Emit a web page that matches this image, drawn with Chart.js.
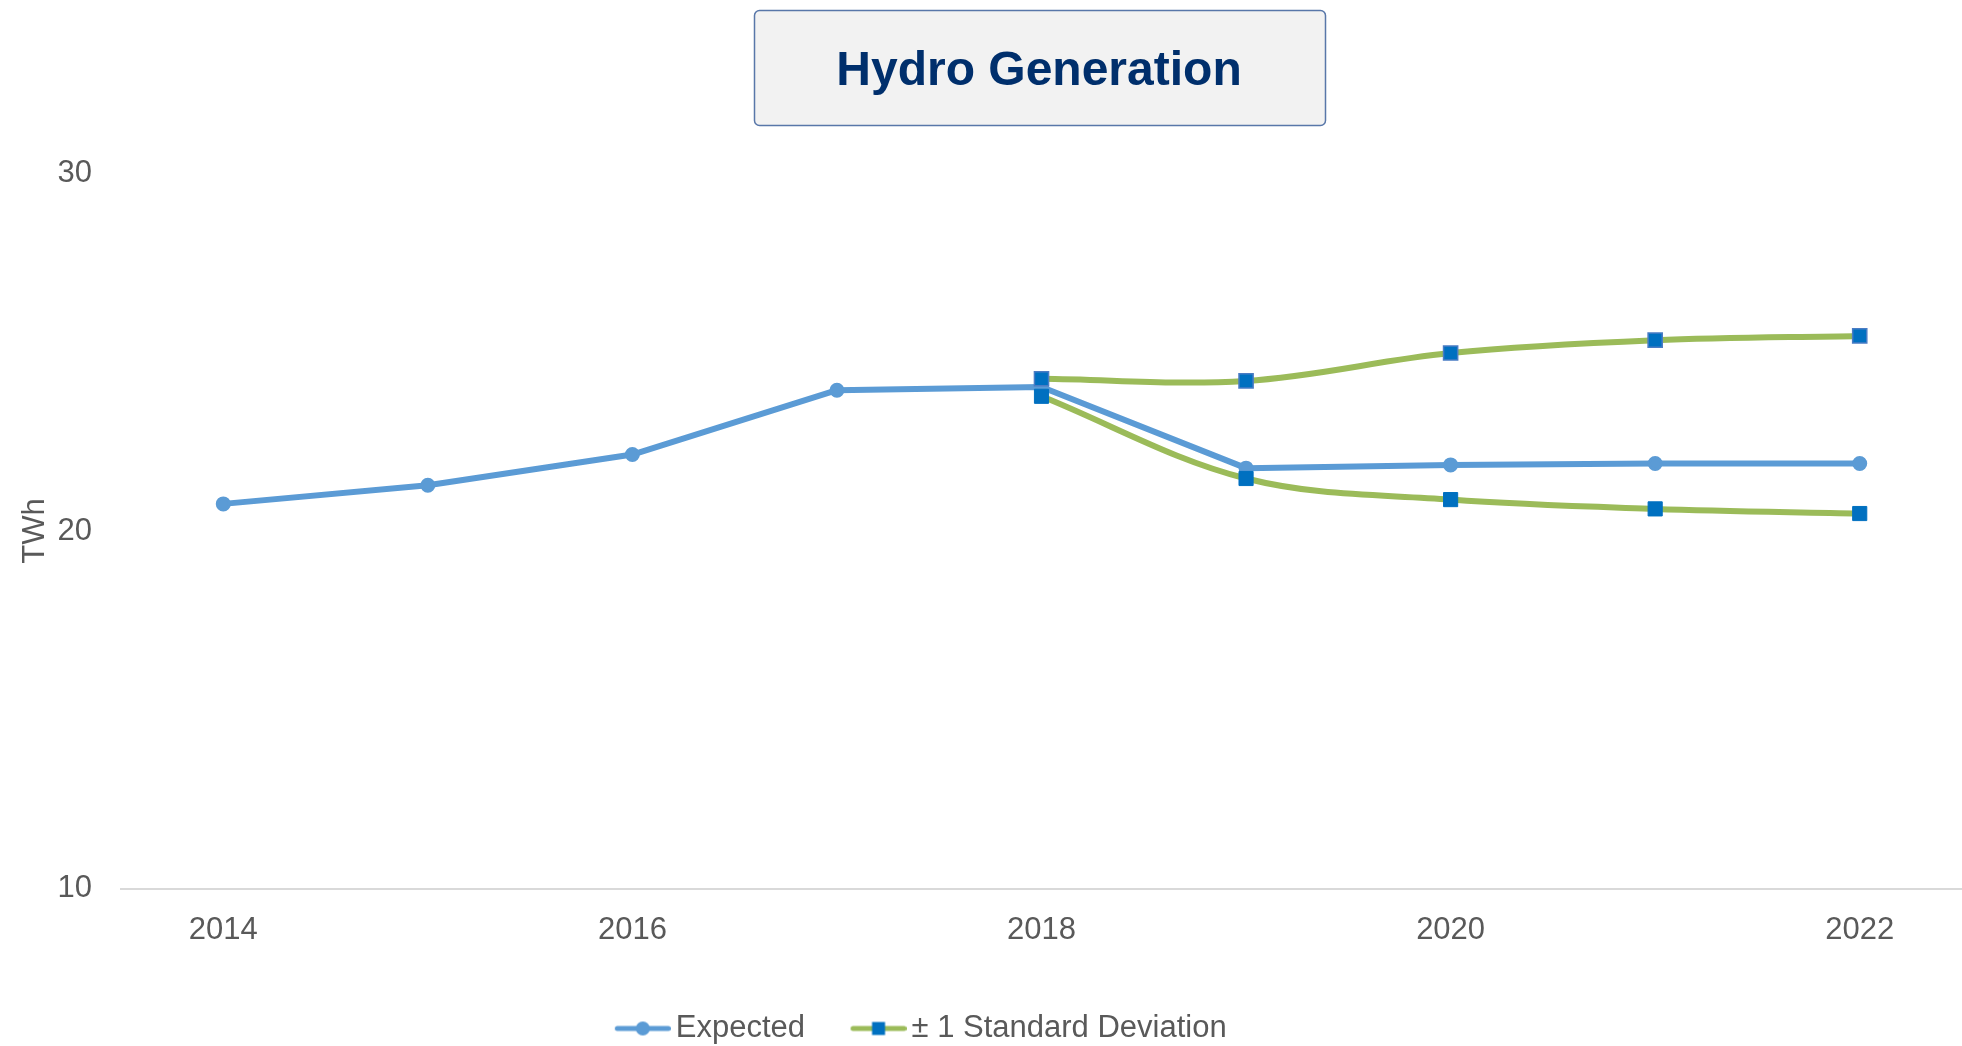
<!DOCTYPE html>
<html>
<head>
<meta charset="utf-8">
<title>Hydro Generation</title>
<script src="https://cdn.jsdelivr.net/npm/chart.js@4.4.1/dist/chart.umd.min.js"></script>
<style>
    html, body { margin: 0; padding: 0; background: #ffffff; }
    canvas { display: block; }
</style>
</head>
<body>
<canvas id="hydroChart" width="1962" height="1046"></canvas>
<script>
// data
const years = ['2014', '2015', '2016', '2017', '2018', '2019', '2020', '2021', '2022'];
const xTickLabels = ['2014', '2016', '2018', '2020', '2022'];
const yTicks = [10, 20, 30];
const expected = [20.76, 21.28, 22.14, 23.94, 24.03, 21.76, 21.85, 21.89, 21.89];
const upperDev = [null, null, null, null, 24.26, 24.2, 24.98, 25.34, 25.46];
const lowerDev = [null, null, null, null, 23.77, 21.47, 20.88, 20.62, 20.49];

const FONT = "'Liberation Sans', Arial, sans-serif";
const TEXT = '#595959';
const BLUE = '#5b9bd5';
const GREEN = '#9bbb59';
const MARKER = '#0070c0';

// legend icon: short line with the marker in the middle
function legendIcon(lineColor, marker) {
    const c = document.createElement('canvas');
    c.width = 108;
    c.height = 20;
    const ctx = c.getContext('2d');
    ctx.strokeStyle = lineColor;
    ctx.lineWidth = 5;
    ctx.lineCap = 'round';
    ctx.beginPath();
    ctx.moveTo(54.5, 10);
    ctx.lineTo(105.5, 10);
    ctx.stroke();
    if (marker === 'circle') {
        ctx.fillStyle = lineColor;
        ctx.beginPath();
        ctx.arc(80, 10, 7, 0, Math.PI * 2);
        ctx.fill();
    } else {
        ctx.fillStyle = MARKER;
        ctx.fillRect(73.5, 3.5, 13, 13);
    }
    return c;
}
const icons = [legendIcon(BLUE, 'circle'), legendIcon(GREEN, 'rect')];

// boxed title background
const titleBox = {
    id: 'titleBox',
    beforeDraw(chart) {
        const ctx = chart.ctx;
        ctx.save();
        ctx.beginPath();
        ctx.roundRect(754.5, 10.5, 571, 115, 5);
        ctx.fillStyle = '#f2f2f2';
        ctx.fill();
        ctx.lineWidth = 1.5;
        ctx.strokeStyle = '#5877a9';
        ctx.stroke();
        ctx.restore();
    }
};

// title sits right of centre, legend left of centre and a bit lower
const nudge = {
    id: 'nudge',
    afterLayout(chart) {
        chart.titleBlock.left += 58;
        chart.titleBlock.right += 58;
        chart.legend.left -= 81;
        chart.legend.right -= 81;
        chart.legend.top += 8;
        chart.legend.bottom += 8;
    }
};

const ctx = document.getElementById('hydroChart').getContext('2d');
new Chart(ctx, {
    type: 'line',
    data: {
        labels: years,
        datasets: [{
            label: 'Expected',
            data: expected,
            order: 2,
            borderColor: BLUE,
            backgroundColor: BLUE,
            borderWidth: 6,
            borderCapStyle: 'round',
            borderJoinStyle: 'round',
            pointRadius: 6,
            pointBorderWidth: 3,
            pointBackgroundColor: BLUE,
            pointBorderColor: BLUE,
            tension: 0
        }, {
            label: '± 1 Standard Deviation',
            data: upperDev,
            order: 1,
            borderColor: GREEN,
            backgroundColor: MARKER,
            borderWidth: 6,
            borderCapStyle: 'round',
            pointStyle: 'rect',
            pointRadius: 10,
            pointBorderWidth: 1.5,
            pointBackgroundColor: MARKER,
            pointBorderColor: '#4a7cc4',
            tension: 0.35
        }, {
            label: 'lower',
            data: lowerDev,
            order: 1,
            borderColor: GREEN,
            backgroundColor: MARKER,
            borderWidth: 6,
            borderCapStyle: 'round',
            pointStyle: 'rect',
            pointRadius: 10,
            pointBorderWidth: 1,
            pointBackgroundColor: MARKER,
            pointBorderColor: MARKER,
            tension: 0.35
        }]
    },
    options: {
        responsive: false,
        animation: false,
        layout: { padding: 0, autoPadding: false },
        plugins: {
            title: {
                display: true,
                text: 'Hydro Generation',
                color: '#002f6c',
                font: { family: FONT, size: 48, weight: 'bold' },
                padding: { top: 43, bottom: 73 }
            },
            legend: {
                position: 'bottom',
                labels: {
                    color: TEXT,
                    font: { family: FONT, size: 31 },
                    usePointStyle: true,
                    pointStyleWidth: 87,
                    padding: 4,
                    filter: (item) => item.datasetIndex !== 2,
                    sort: (a, b) => a.datasetIndex - b.datasetIndex,
                    generateLabels: (chart) => {
                        const items = Chart.defaults.plugins.legend.labels.generateLabels(chart);
                        items.forEach((it) => { it.pointStyle = icons[Math.min(it.datasetIndex, 1)]; });
                        return items;
                    }
                }
            },
            tooltip: { enabled: false }
        },
        scales: {
            x: {
                offset: true,
                grid: { display: false, drawTicks: false },
                border: { display: true, color: '#d9d9d9', width: 2 },
                ticks: {
                    color: TEXT,
                    font: { family: FONT, size: 31 },
                    padding: 23,
                    autoSkip: false,
                    maxRotation: 0,
                    callback: function (v) {
                        const l = this.getLabelForValue(v);
                        return xTickLabels.includes(l) ? l : '';
                    }
                },
                afterFit: (scale) => {
                    scale.height = 112.5;
                    scale.paddingLeft = 0;
                    scale.paddingRight = 0;
                }
            },
            y: {
                min: 10,
                max: 30,
                grid: { display: false, drawTicks: false },
                border: { display: false },
                ticks: {
                    color: TEXT,
                    font: { family: FONT, size: 31 },
                    padding: 29
                },
                afterBuildTicks: (scale) => { scale.ticks = yTicks.map((v) => ({ value: v })); },
                title: {
                    display: true,
                    text: 'TWh',
                    color: TEXT,
                    font: { family: FONT, size: 31 },
                    padding: { top: 17, bottom: 3 }
                },
                afterFit: (scale) => { scale.width = 121; }
            }
        }
    },
    plugins: [titleBox, nudge]
});
</script>
</body>
</html>
